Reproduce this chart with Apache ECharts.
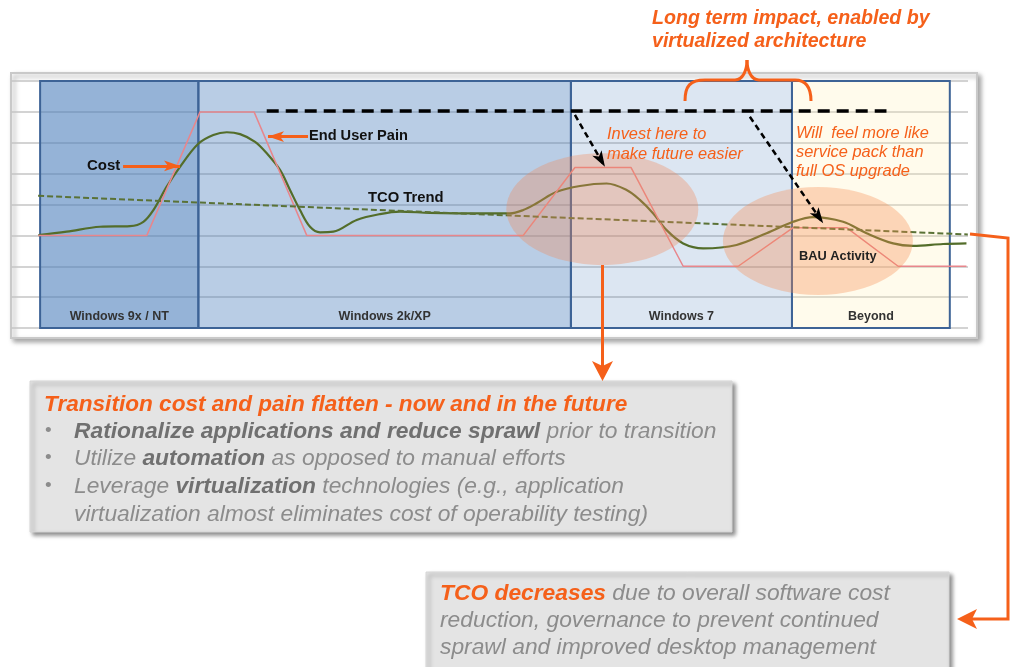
<!DOCTYPE html>
<html><head><meta charset="utf-8">
<script src="https://cdn.jsdelivr.net/npm/echarts@6/dist/echarts.min.js"></script>
<style>html,body{margin:0;padding:0;background:#fff}#c{width:1016px;height:667px}</style>
</head><body><div id="c"></div>
<script>
// ---- data (x: time units, y: relative cost level) ----
const panelNames = ['Windows 9x / NT', 'Windows 2k/XP', 'Windows 7', 'Beyond'];
const panelStart = [0, 17.4, 58.35, 82.65];
const panelEnd   = [17.4, 58.35, 82.65, 100];

const costX = [-0.19, 2.93, 6.59, 9.89, 11.35, 12.45, 13.92, 15.38, 17.36, 19.04, 20.52, 21.98, 23.63, 24.91, 26.37, 27.47, 28.57, 29.67, 30.77, 32.23, 34.8, 37.36, 39.56, 42.86, 48.35, 51.65, 53.11, 54.58, 56.78, 59.34, 62.27, 64.47, 65.93, 67.4, 68.87, 70.69, 72.89, 76.56, 79.86, 82.78, 84.98, 88.27, 90.85, 93.77, 95.97, 99.26, 101.83];
const costY = [3.01, 3.12, 3.28, 3.3, 3.44, 3.82, 4.58, 5.22, 5.96, 6.25, 6.34, 6.28, 6.03, 5.66, 5.12, 4.47, 3.82, 3.28, 3.1, 3.12, 3.5, 3.69, 3.77, 3.73, 3.71, 3.71, 3.82, 4.04, 4.41, 4.6, 4.68, 4.47, 4.15, 3.71, 3.17, 2.74, 2.58, 2.69, 3.07, 3.44, 3.59, 3.44, 3.07, 2.74, 2.66, 2.72, 2.74];

const painX = [-0.2, 11.73, 17.58, 23.52, 29.31, 53.11, 58.79, 64.95, 70.69, 76.74, 82.78, 88.65, 94.32, 101.83];
const painY = [3, 3, 7, 7, 3, 3, 5.2, 5.2, 2, 2, 3.25, 3.25, 2, 2];

const trendX = [-0.22, 101.98];
const trendY = [4.28, 3.03];

const futureX = [24.91, 93.04];
const futureY = [7.03, 7.03];

const focusX = [61.8, 85.5];
const focusY = [3.85, 2.82];

// annotation arrows [x1, y1, x2, y2]
const dashArrows = [[58.79, 6.9, 62.09, 5.22], [78.02, 6.84, 86.08, 3.39]];
const labelArrows = [[9.12, 5.25, 15.38, 5.25], [29.45, 6.2, 25.05, 6.2]];

const zip = (xs, ys) => xs.map((x, i) => [x, ys[i]]);

const ORANGE = '#f5601a';
const chart = echarts.init(document.getElementById('c'));

const panelColors = ['rgba(79,129,189,0.6)', 'rgba(79,129,189,0.4)', 'rgba(79,129,189,0.2)', 'rgba(255,240,180,0.25)'];

const txt = (x, y, text, font, fill) => ({
  type: 'text', x: x, y: y, z: 100, silent: true,
  style: { text: text, font: font, fill: fill, textVerticalAlign: 'middle' }
});

const FS = 22.8;
const richBody = {
  b: { fontFamily: 'Liberation Sans', fontStyle: 'italic', fontWeight: 'bold', fontSize: FS, fill: '#707070' },
  n: { fontFamily: 'Liberation Sans', fontStyle: 'italic', fontSize: FS, fill: '#8c8c8c' },
  o: { fontFamily: 'Liberation Sans', fontStyle: 'italic', fontWeight: 'bold', fontSize: FS, fill: ORANGE },
  t: { fontFamily: 'Liberation Sans', fontStyle: 'italic', fontWeight: 'bold', fontSize: 22.6, fill: ORANGE }
};
const richTxt = (x, y, text) => ({
  type: 'text', x: x, y: y, z: 100, silent: true,
  style: { text: text, rich: richBody, textVerticalAlign: 'middle' }
});
const bez = (x1, y1, c1x, c1y, c2x, c2y, x2, y2) => ({
  type: 'bezierCurve', z: 100, silent: true,
  shape: { x1: x1, y1: y1, cpx1: c1x, cpy1: c1y, cpx2: c2x, cpy2: c2y, x2: x2, y2: y2 },
  style: { fill: 'none', stroke: ORANGE, lineWidth: 3 }
});
const seg = (x1, y1, x2, y2, w) => ({
  type: 'line', z: 100, silent: true, shape: { x1: x1, y1: y1, x2: x2, y2: y2 },
  style: { stroke: ORANGE, lineWidth: w || 3 }
});

const option = {
  animation: false,
  grid: { left: 11, right: 48, top: 81, bottom: 339 },
  xAxis: { type: 'value', min: -3.2, max: 102, axisLine: { show: false }, axisTick: { show: false }, axisLabel: { show: false }, splitLine: { show: false } },
  yAxis: { type: 'value', min: 0, max: 8, interval: 1, z: 1, axisLine: { show: false }, axisTick: { show: false }, axisLabel: { show: false },
    splitLine: { lineStyle: { color: '#c4c4c4', width: 1.5 } } },
  series: [
    { name: 'Cost', type: 'line', z: 2, data: zip(costX, costY), smooth: 0.35, showSymbol: false,
      lineStyle: { color: '#536d2a', width: 2.2 } },
    { name: 'End User Pain', type: 'line', z: 2, data: zip(painX, painY), showSymbol: false,
      lineStyle: { color: '#e8868c', width: 1.5 } },
    { name: 'TCO Trend', type: 'line', z: 2, data: zip(trendX, trendY), showSymbol: false,
      lineStyle: { color: '#5a7236', width: 2, type: [6, 3] } },
    { name: 'panels', type: 'line', z: 3, data: [],
      markArea: { silent: true,
        label: { show: true, position: 'insideBottom', distance: 6, color: '#333', fontWeight: 'bold', fontSize: 12.5, fontFamily: 'Liberation Sans' },
        data: panelNames.map((n, i) => [
          { name: n, xAxis: panelStart[i], yAxis: 0, itemStyle: { color: panelColors[i], borderColor: '#3d6396', borderWidth: 2 } },
          { xAxis: panelEnd[i], yAxis: 8 }
        ]) } },
    { name: 'focus1', type: 'scatter', z: 4, data: [[focusX[0], focusY[0]]], symbol: 'circle', symbolSize: [192, 112],
      itemStyle: { color: 'rgba(240,135,90,0.42)' }, silent: true },
    { name: 'focus2', type: 'scatter', z: 4, data: [[focusX[1], focusY[1]]], symbol: 'circle', symbolSize: [190, 108],
      itemStyle: { color: 'rgba(245,140,80,0.42)' }, silent: true },
    { name: 'future', type: 'line', z: 6, data: zip(futureX, futureY), showSymbol: false,
      lineStyle: { color: '#000', width: 3.5, type: [12, 7] },
      markLine: { silent: true, animation: false, label: { show: false }, symbol: ['none', 'arrow'],
        data: dashArrows.map(a => [
          { coord: [a[0], a[1]], symbolSize: 12, lineStyle: { color: '#000', width: 2.5, type: [6, 4] } },
          { coord: [a[2], a[3]] }
        ]).concat(labelArrows.map(a => [
          { coord: [a[0], a[1]], symbolSize: 13, lineStyle: { color: ORANGE, width: 3, type: 'solid' } },
          { coord: [a[2], a[3]] }
        ])) } }
  ],
  graphic: [
    { type: 'rect', z: -5, silent: true, shape: { x: 11, y: 73, width: 966, height: 265 },
      style: { fill: '#fff', stroke: '#c9c9c9', lineWidth: 2, shadowBlur: 5, shadowOffsetX: 3, shadowOffsetY: 3, shadowColor: 'rgba(0,0,0,0.35)' } },
    // chart labels
    txt(87, 166, 'Cost', 'bold 15px "Liberation Sans"', '#111'),
    txt(309, 136, 'End User Pain', 'bold 14.6px "Liberation Sans"', '#111'),
    txt(368, 198, 'TCO Trend', 'bold 14.8px "Liberation Sans"', '#111'),
    txt(799, 256, 'BAU Activity', 'bold 12.8px "Liberation Sans"', '#222'),
    txt(607, 134, 'Invest here to', 'italic 16.4px "Liberation Sans"', ORANGE),
    txt(607, 154, 'make future easier', 'italic 16.4px "Liberation Sans"', ORANGE),
    txt(796, 133, 'Will  feel more like', 'italic 16.4px "Liberation Sans"', ORANGE),
    txt(796, 152, 'service pack than', 'italic 16.4px "Liberation Sans"', ORANGE),
    txt(796, 171, 'full OS upgrade', 'italic 16.4px "Liberation Sans"', ORANGE),
    txt(652, 19, 'Long term impact, enabled by', 'italic bold 19.6px "Liberation Sans"', ORANGE),
    txt(652, 42, 'virtualized architecture', 'italic bold 19.6px "Liberation Sans"', ORANGE),
    // brace
    bez(685, 101, 685, 86, 690, 80, 705, 80),
    seg(705, 80, 735, 80),
    bez(735, 80, 743, 80, 747, 70, 747, 60),
    bez(747, 60, 747, 70, 751, 80, 759, 80),
    seg(759, 80, 795, 80),
    bez(795, 80, 806, 80, 811, 88, 811, 101),
    // vertical arrow to box 1
    seg(602.5, 265, 602.5, 366),
    { type: 'polygon', z: 100, silent: true, shape: { points: [[602.5, 381], [592, 361], [602.5, 366], [613, 361]] }, style: { fill: ORANGE } },
    // connector to box 2
    { type: 'polyline', z: 100, silent: true, shape: { points: [[970, 234], [1008, 238], [1008, 619], [972, 619]] }, style: { stroke: ORANGE, lineWidth: 3, fill: 'none' } },
    { type: 'polygon', z: 100, silent: true, shape: { points: [[957, 619], [977, 609], [972, 619], [977, 629]] }, style: { fill: ORANGE } },
    // box 1
    { type: 'rect', z: 50, silent: true, shape: { x: 30, y: 381, width: 702, height: 151 },
      style: { fill: '#e4e4e4', stroke: '#d6d6d6', lineWidth: 1, shadowBlur: 4, shadowOffsetX: 3, shadowOffsetY: 3, shadowColor: 'rgba(0,0,0,0.45)' } },
    richTxt(44, 404.5, '{t|Transition cost and pain flatten - now and in the future}'),
    txt(45, 431, '•', '19px "Liberation Sans"', '#8c8c8c'),
    txt(45, 458, '•', '19px "Liberation Sans"', '#8c8c8c'),
    txt(45, 486, '•', '19px "Liberation Sans"', '#8c8c8c'),
    richTxt(74, 431.5, '{b|Rationalize applications and reduce sprawl}{n| prior to transition}'),
    richTxt(74, 458.5, '{n|Utilize }{b|automation}{n| as opposed to manual efforts}'),
    richTxt(74, 486.5, '{n|Leverage }{b|virtualization}{n| technologies (e.g., application}'),
    richTxt(74, 514.5, '{n|virtualization almost eliminates cost of operability testing)}'),
    // box 2
    { type: 'rect', z: 50, silent: true, shape: { x: 426, y: 572, width: 523, height: 100 },
      style: { fill: '#e4e4e4', stroke: '#d6d6d6', lineWidth: 1, shadowBlur: 4, shadowOffsetX: 3, shadowOffsetY: 3, shadowColor: 'rgba(0,0,0,0.45)' } },
    richTxt(440, 593.5, '{o|TCO decreases}{n| due to overall software cost}'),
    richTxt(440, 620.5, '{n|reduction, governance to prevent continued}'),
    richTxt(440, 647.5, '{n|sprawl and improved desktop management}')
  ]
};
chart.setOption(option);
</script></body></html>
